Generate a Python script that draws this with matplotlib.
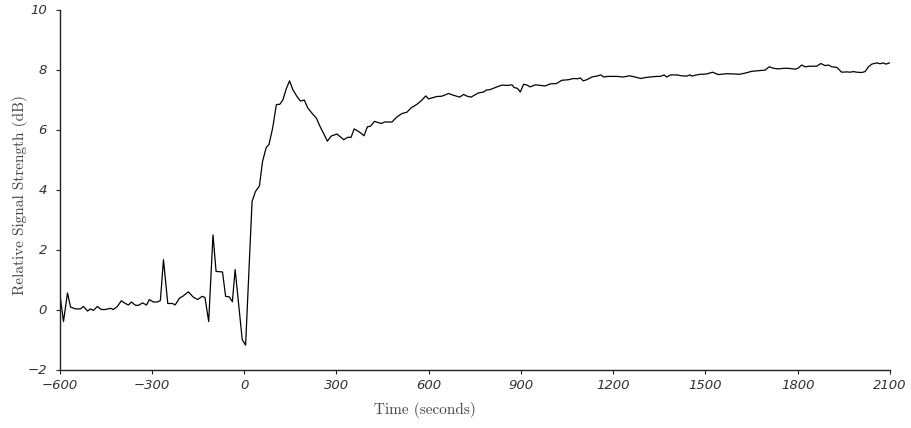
import matplotlib
matplotlib.use("Agg")
import matplotlib.pyplot as plt

time_s = [-600, -587, -574, -564, -548, -532, -522, -509, -499, -490, -477, -464, -451, -434, -425, -412,
          -399, -386, -376, -366, -353, -343, -330, -317, -308, -295, -282, -272, -262, -248, -232, -224,
          -210, -198, -181, -166, -151, -136, -127, -115, -101, -91, -70, -60, -48, -38, -29, -6, 5,
          26, 37, 50, 60, 72, 81, 93, 105, 116, 126, 138, 148, 159, 172, 183, 196, 207, 221, 235, 248,
          259, 271, 283, 302, 324, 337, 348, 358, 376, 390, 401, 411, 424, 446, 457, 481, 497, 513, 530,
          543, 562, 575, 591, 600, 627, 643, 665, 681, 701, 714, 725, 738, 762, 779, 786, 800, 822, 838,
          855, 871, 878, 889, 898, 909, 920, 930, 947, 963, 979, 995, 1015, 1033, 1055, 1071, 1084, 1093,
          1103, 1114, 1131, 1147, 1160, 1169, 1181, 1212, 1233, 1253, 1271, 1290, 1304, 1320, 1342, 1353,
          1366, 1374, 1387, 1407, 1423, 1439, 1450, 1456, 1472, 1483, 1504, 1523, 1542, 1569, 1596, 1610,
          1629, 1651, 1672, 1694, 1707, 1721, 1737, 1754, 1770, 1792, 1802, 1813, 1824, 1840, 1862, 1875,
          1889, 1900, 1911, 1927, 1943, 1960, 1970, 1981, 1992, 2008, 2019, 2030, 2041, 2057, 2068, 2077,
          2087, 2098]

signal_db = [0.60, -0.40, 0.55, 0.08, 0.02, 0.02, 0.10, -0.05, 0.02, -0.03, 0.10, 0.00, 0.00, 0.04, 0.00, 0.10,
             0.29, 0.20, 0.15, 0.25, 0.14, 0.14, 0.22, 0.15, 0.33, 0.25, 0.25, 0.30, 1.66, 0.20, 0.20, 0.15,
             0.38, 0.45, 0.59, 0.42, 0.33, 0.44, 0.40, -0.40, 2.49, 1.27, 1.25, 0.44, 0.42, 0.26, 1.33, -1.00, -1.19,
             3.60, 3.93, 4.12, 4.93, 5.40, 5.50, 6.05, 6.83, 6.84, 6.98, 7.38, 7.62, 7.32, 7.10, 6.95, 6.98, 6.72, 6.54, 6.38, 6.08,
             5.86, 5.61, 5.78, 5.85, 5.66, 5.74, 5.74, 6.02, 5.91, 5.79, 6.09, 6.11, 6.27, 6.20, 6.25, 6.25, 6.42, 6.53, 6.58,
             6.72, 6.84, 6.95, 7.12, 7.02, 7.10, 7.11, 7.20, 7.14, 7.08, 7.17, 7.11, 7.08, 7.22, 7.25, 7.31, 7.33, 7.42, 7.48,
             7.47, 7.49, 7.40, 7.37, 7.25, 7.51, 7.48, 7.42, 7.49, 7.47, 7.45, 7.52, 7.53, 7.64, 7.66, 7.70, 7.69, 7.72,
             7.62, 7.66, 7.75, 7.78, 7.82, 7.75, 7.77, 7.77, 7.75, 7.79, 7.75, 7.70, 7.73, 7.75, 7.77, 7.77,
             7.82, 7.75, 7.82, 7.82, 7.79, 7.78, 7.82, 7.78, 7.82, 7.84, 7.85, 7.91, 7.83, 7.86, 7.85, 7.84,
             7.88, 7.94, 7.96, 7.98, 8.09, 8.04, 8.02, 8.04, 8.04, 8.01, 8.05, 8.15, 8.09, 8.11, 8.11, 8.20,
             8.13, 8.15, 8.09, 8.07, 7.91, 7.92, 7.91, 7.93, 7.91, 7.90, 7.93, 8.09, 8.18, 8.22, 8.19, 8.22,
             8.18, 8.22]

x_ticks = [-600, -300, 0, 300, 600, 900, 1200, 1500, 1800, 2100]
y_ticks = [-2, 0, 2, 4, 6, 8, 10]
x_label = "Time (seconds)"
y_label = "Relative Signal Strength (dB)"

fig = plt.figure(figsize=(9.11, 4.28), dpi=100)
ax = fig.add_axes([59.5 / 911, 1 - 369.5 / 428, (890 - 59.5) / 911, (369.5 - 9.5) / 428])

ax.plot(time_s, signal_db, color="black", linewidth=0.9)

ax.set_xlim(-600, 2100)
ax.set_ylim(-2, 10)
ax.set_xticks(x_ticks)
ax.set_yticks(y_ticks)
ax.set_xticklabels([str(v).replace("-", "\u2212") for v in x_ticks])
ax.set_yticklabels([str(v).replace("-", "\u2212") for v in y_ticks])

for side in ("top", "right"):
    ax.spines[side].set_visible(False)
for side in ("left", "bottom"):
    ax.spines[side].set_linewidth(1.0)
    ax.spines[side].set_color("#222222")

ax.tick_params(axis="both", direction="out", length=3, width=0.8, colors="#222222",
               labelcolor="#333333", labelsize=9.5)
ax.tick_params(axis="x", pad=4)
ax.tick_params(axis="y", pad=6)
for lab in ax.get_xticklabels() + ax.get_yticklabels():
    lab.set_fontstyle("italic")
    lab.set_family("DejaVu Sans")

ax.set_xlabel(x_label, family="cmr10", fontsize=11, color="#444444")
ax.set_ylabel(y_label, family="cmr10", fontsize=11, color="#444444")
ax.xaxis.set_label_coords((425 - 59.5) / 830.5, (369.5 - 402) / 360)
ax.yaxis.set_label_coords((28 - 59.5) / 830.5, (369.5 - 195) / 360)

fig.savefig("out.png", dpi=100)
